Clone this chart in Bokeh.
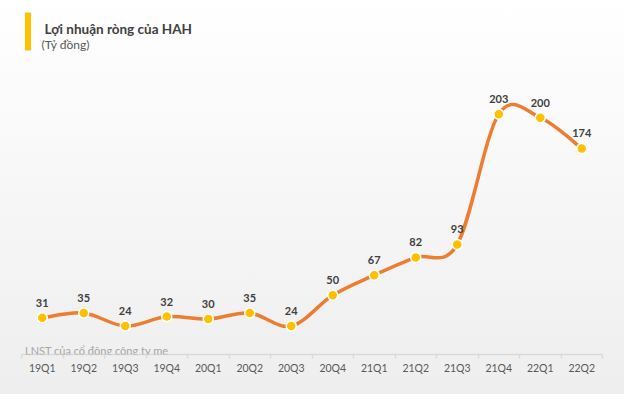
from bokeh.plotting import figure
from bokeh.models import Range1d, FixedTicker, Label, BoxAnnotation, ColumnDataSource
from bokeh.core.properties import value
from bokeh.embed import file_html
from bokeh.resources import INLINE

quarters = ["19Q1", "19Q2", "19Q3", "19Q4", "20Q1", "20Q2", "20Q3", "20Q4",
            "21Q1", "21Q2", "21Q3", "21Q4", "22Q1", "22Q2"]
profit = [31, 35, 24, 32, 30, 35, 24, 50, 67, 82, 93, 203, 200, 174]

title_text = "Lợi nhuận ròng của HAH"
unit_text = "(Tỷ đồng)"
series_name = "LNST của cổ đông công ty mẹ"

FONT = "Lato"
n = len(quarters)
xs = list(range(n))

p = figure(width=624, height=394, output_backend="svg", toolbar_location=None,
           x_range=Range1d(-0.5, n - 0.5), y_range=Range1d(0, 299),
           min_border_left=21, min_border_right=22, min_border_top=0,
           min_border_bottom=40)
p.background_fill_color = None
p.border_fill_color = None
p.outline_line_color = None
p.styles = {"background": "linear-gradient(#ffffff, #eeeeee)"}
p.grid.visible = False
p.yaxis.visible = False

ax = p.xaxis[0]
ax.ticker = FixedTicker(ticks=xs, minor_ticks=[i - 0.5 for i in range(n + 1)])
ax.major_label_overrides = {i: q for i, q in enumerate(quarters)}
ax.axis_line_color = "#d9d9d9"
ax.axis_line_width = 1.5
ax.major_tick_line_color = None
ax.major_tick_in = 0
ax.major_tick_out = 0
ax.minor_tick_line_color = "#d9d9d9"
ax.minor_tick_line_width = 1.5
ax.minor_tick_in = 0
ax.minor_tick_out = 4
ax.major_label_standoff = 3
ax.major_label_text_font = FONT
ax.major_label_text_font_size = "10.5px"
ax.major_label_text_color = "#595959"

# smooth (Excel-like) curve through the data points using cubic Bezier segments
x0, y0, x1, y1, cx0, cy0, cx1, cy1 = [], [], [], [], [], [], [], []
for i in range(n - 1):
    a = max(i - 1, 0)
    d = min(i + 2, n - 1)
    x0.append(xs[i]); y0.append(profit[i])
    x1.append(xs[i + 1]); y1.append(profit[i + 1])
    cx0.append(xs[i] + (xs[i + 1] - xs[a]) / 6)
    cy0.append(profit[i] + (profit[i + 1] - profit[a]) / 6)
    cx1.append(xs[i + 1] - (xs[d] - xs[i]) / 6)
    cy1.append(profit[i + 1] - (profit[d] - profit[i]) / 6)

p.bezier(x0=x0, y0=y0, x1=x1, y1=y1, cx0=cx0, cy0=cy0, cx1=cx1, cy1=cy1,
         line_color="#ED7D31", line_width=3.5)

src = ColumnDataSource(dict(x=xs, y=profit, lbl=[str(v) for v in profit]))
p.scatter("x", "y", source=src, size=10, fill_color="#FFC000",
          line_color="white", line_width=1.5)
p.text("x", "y", text="lbl", source=src, text_font=value(FONT),
       text_font_style="bold", text_font_size="11px", text_color="#404040",
       text_align="center", text_baseline="middle", y_offset=-15)

# header
p.add_layout(BoxAnnotation(left=3.5, right=9.5, top=342, bottom=304,
                           left_units="screen", right_units="screen",
                           top_units="screen", bottom_units="screen",
                           fill_color="#FFC000", fill_alpha=1, line_color=None))
p.add_layout(Label(x=23, y=326, x_units="screen", y_units="screen",
                   text=title_text, text_font=FONT, text_font_style="bold",
                   text_font_size="13.5px", text_color="#404040",
                   text_baseline="alphabetic"))
p.add_layout(Label(x=20, y=310, x_units="screen", y_units="screen",
                   text=unit_text, text_font=FONT, text_font_size="12px",
                   text_color="#595959", text_baseline="alphabetic"))
p.add_layout(Label(x=3.5, y=4.5, x_units="screen", y_units="screen",
                   text=series_name, text_font=FONT, text_font_size="11px",
                   text_color="#a6a6a6", text_baseline="alphabetic"))

open("out.html", "w").write(file_html(p, INLINE))
